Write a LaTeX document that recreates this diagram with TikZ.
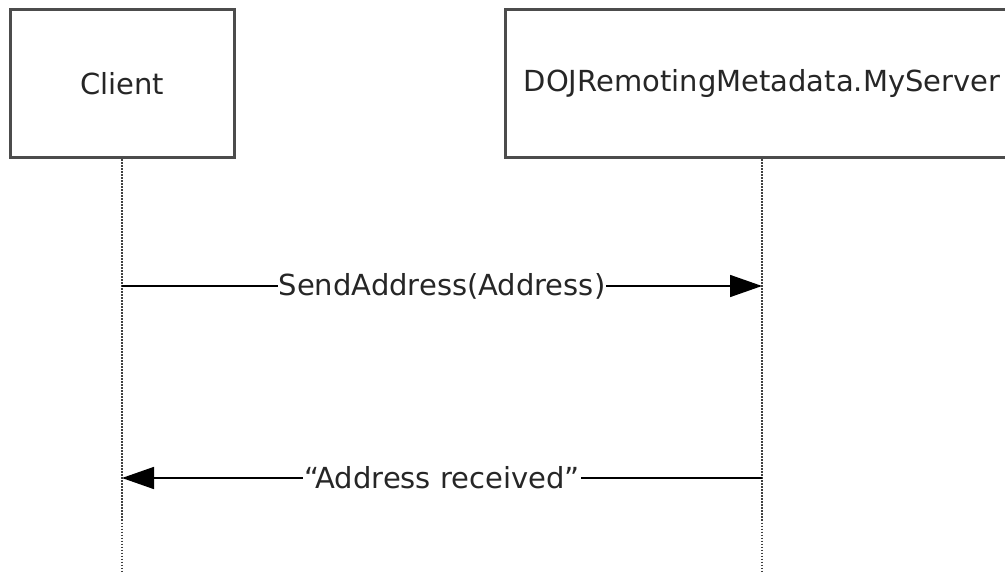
\documentclass[tikz,border=0pt]{standalone}
\usepackage{fontspec}
\setmainfont{DejaVu Sans}
\usepackage{tikz}
\usetikzlibrary{arrows.meta, positioning}

\begin{document}
\begin{tikzpicture}[node distance=100pt,on grid,>={Triangle[length=32pt,width=22pt]}]
    \tikzstyle{actor}=[shape=rectangle,draw=black!70,line width=3pt,fill=white,minimum width=224pt,minimum height=148pt,font=\fontsize{29}{33}\selectfont,text=black!85]
    \tikzstyle{lifeline}=[draw=black!75,line width=1.5pt,dash pattern=on 1.6pt off 1.4pt]
    \tikzstyle{msg}=[fill=white,inner sep=1pt,font=\fontsize{29}{33}\selectfont,text=black!85]

    \useasboundingbox (0pt,0pt) rectangle (1005pt,-572pt);

    \node[actor] (client) at (122pt,-84pt) {Client};
    \node[actor,minimum width=514pt,right=640pt of client] (server) {DOJRemotingMetadata.MyServer};

    \coordinate[below=488pt of client] (clientEnd);
    \coordinate[below=488pt of server] (serverEnd);
    \coordinate[below=202pt of client] (C1);
    \coordinate[below=202pt of server] (S1);
    \coordinate[below=394pt of client] (C2);
    \coordinate[below=394pt of server] (S2);

    \draw[lifeline] (client.south) -- (clientEnd);
    \draw[lifeline] (server.south) -- (serverEnd);

    \path[line width=1.6pt]
    (C1) edge[->] node[msg] {SendAddress(Address)} (S1)
    (S2) edge[->] node[msg] {“Address received”} (C2)
    ;

\end{tikzpicture}
\end{document}
